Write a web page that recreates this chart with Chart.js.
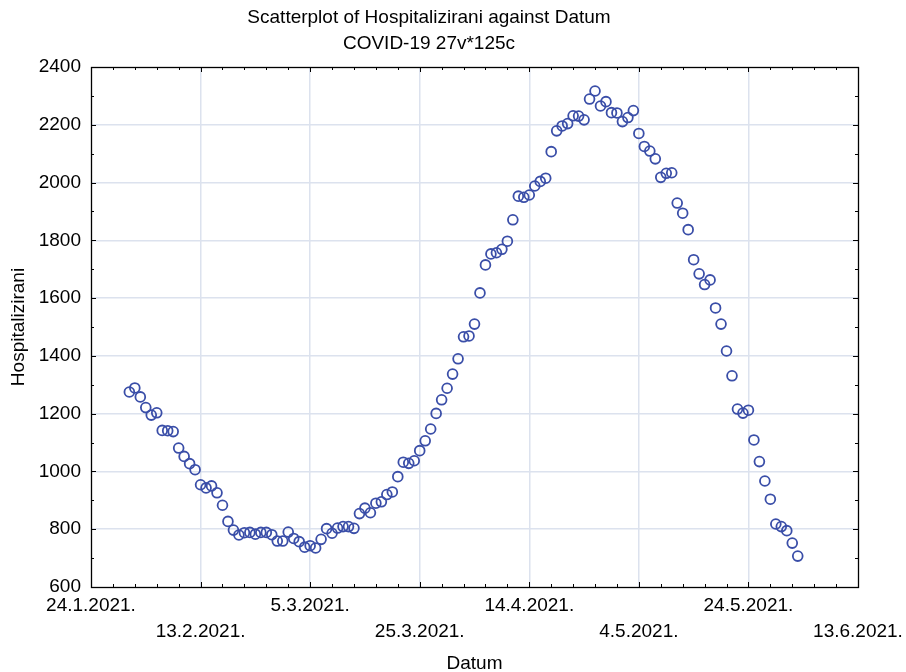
<!DOCTYPE html>
<html>
<head>
<meta charset="utf-8">
<script src="https://cdn.jsdelivr.net/npm/chart.js@4"></script>
<style>
  html, body { margin: 0; padding: 0; background: #ffffff; }
  #c { display: block; }
</style>
</head>
<body>
<canvas id="c" width="906" height="672"></canvas>
<script>
// ---- data ----
const titleLines = ['Scatterplot of Hospitalizirani against Datum', 'COVID-19 27v*125c'];
const xTitle = 'Datum';
const yTitle = 'Hospitalizirani';
// x axis: days since 24.1.2021
const xTickLabels = ['24.1.2021.', '13.2.2021.', '5.3.2021.', '25.3.2021.', '14.4.2021.', '4.5.2021.', '24.5.2021.', '13.6.2021.'];
const xMin = 0, xMax = 140, xMajor = 20, xMinor = 4;
const yMin = 600, yMax = 2400, yMajor = 200, yMinor = 100;
// first observation: 31.1.2021 (day 7), consecutive daily values
const firstDay = 7;
const hospitalizirani = [
  1275,1289,1258,1221,1195,1203,1142,1141,1138,1081,1052,1027,1006,954,
  943,950,926,883,827,797,780,788,789,783,789,789,781,759,759,790,768,757,738,743,
  735,765,802,786,804,809,809,803,854,873,857,890,895,920,929,982,1032,1028,1037,1072,
  1106,1147,1201,1248,1288,1337,1390,1466,1469,1510,1618,1715,1753,1757,1769,1797,1871,1953,1949,1957,
  1988,2004,2015,2107,2179,2196,2204,2231,2230,2217,2289,2317,2265,2280,2242,2241,2211,2225,2249,2170,
  2125,2109,2082,2018,2032,2034,1929,1894,1837,1733,1684,1647,1663,1566,1510,1417,1331,1216,1202,1212,
  1109,1034,967,904,818,809,795,752,707
];

const points = hospitalizirani.map((v, i) => ({ x: firstDay + i, y: v }));

const FONT = '"Liberation Sans", Arial, sans-serif';
const gridColor = '#dce2ee';

const frameTicks = {
  id: 'frameTicks',
  afterDatasetsDraw(chart) {
    const { ctx, chartArea: a, scales } = chart;
    const xs = scales.x, ys = scales.y;
    ctx.save();
    ctx.strokeStyle = '#000';
    ctx.lineWidth = 1;
    for (let v = xMin; v <= xMax; v += xMinor) {
      const px = Math.round(xs.getPixelForValue(v)) + 0.5;
      const len = (v % xMajor === 0) ? 5 : 3;
      ctx.beginPath();
      ctx.moveTo(px, a.bottom); ctx.lineTo(px, a.bottom - len);
      ctx.moveTo(px, a.top); ctx.lineTo(px, a.top + len);
      ctx.stroke();
    }
    for (let v = yMin; v <= yMax; v += yMinor) {
      const py = Math.round(ys.getPixelForValue(v)) + 0.5;
      const len = (v % yMajor === 0) ? 5 : 3;
      ctx.beginPath();
      ctx.moveTo(a.left, py); ctx.lineTo(a.left + len, py);
      ctx.moveTo(a.right, py); ctx.lineTo(a.right - len, py);
      ctx.stroke();
    }
    ctx.lineWidth = 1.3;
    ctx.strokeRect(Math.round(a.left) + 0.5, Math.round(a.top) + 0.5,
                   Math.round(a.right - a.left), Math.round(a.bottom - a.top));
    ctx.restore();
  }
};

new Chart(document.getElementById('c'), {
  type: 'scatter',
  data: {
    datasets: [{
      label: yTitle,
      data: points,
      pointStyle: 'circle',
      pointRadius: 4.9,
      pointHoverRadius: 4.9,
      pointBorderWidth: 1.8,
      borderColor: '#3a4ea8',
      backgroundColor: 'rgba(0,0,0,0)',
      showLine: false
    }]
  },
  options: {
    responsive: false,
    animation: false,
    devicePixelRatio: 1,
    layout: { padding: { left: 0, right: 48, top: 0, bottom: 0 } },
    plugins: {
      legend: { display: false },
      tooltip: { enabled: false },
      title: {
        display: true,
        text: titleLines,
        color: '#000',
        font: { family: FONT, size: 19, weight: 'normal', lineHeight: 26 / 19 },
        padding: { top: 5, bottom: 10 }
      }
    },
    scales: {
      x: {
        type: 'linear',
        min: xMin, max: xMax,
        border: { display: false },
        grid: {
          drawTicks: false,
          lineWidth: 1.5,
          color: (c) => (c.tick && c.tick.value % xMajor === 0 && c.tick.value !== xMin && c.tick.value !== xMax) ? gridColor : 'rgba(0,0,0,0)'
        },
        ticks: {
          stepSize: xMinor,
          autoSkip: false,
          maxRotation: 0,
          minRotation: 0,
          padding: 6,
          color: '#000',
          font: { family: FONT, size: 19, lineHeight: 26 / 19 },
          callback: (v) => {
            if (v % xMajor !== 0) return '';
            const k = Math.round((v - xMin) / xMajor);
            const lab = xTickLabels[k];
            return k % 2 === 0 ? [lab, ''] : ['', lab];
          }
        },
        title: {
          display: true,
          text: xTitle,
          color: '#000',
          font: { family: FONT, size: 19, lineHeight: 1 },
          padding: { top: 0, bottom: -1 }
        },
        afterFit: (s) => { s.height = 85; s.paddingLeft = 0; s.paddingRight = 0; }
      },
      y: {
        type: 'linear',
        min: yMin, max: yMax,
        border: { display: false },
        grid: {
          drawTicks: false,
          lineWidth: 1.5,
          color: (c) => (c.tick && c.tick.value % yMajor === 0 && c.tick.value !== yMin && c.tick.value !== yMax) ? gridColor : 'rgba(0,0,0,0)'
        },
        ticks: {
          stepSize: yMinor,
          autoSkip: false,
          padding: 10,
          color: '#000',
          font: { family: FONT, size: 19 },
          callback: (v) => (v % yMajor === 0 ? String(v) : '')
        },
        title: {
          display: true,
          text: yTitle,
          color: '#000',
          font: { family: FONT, size: 19 },
          padding: { top: 7, bottom: 0 }
        },
        afterFit: (s) => { s.width = 91; s.paddingTop = 0; s.paddingBottom = 0; }
      }
    }
  },
  plugins: [frameTicks]
});
</script>
</body>
</html>
